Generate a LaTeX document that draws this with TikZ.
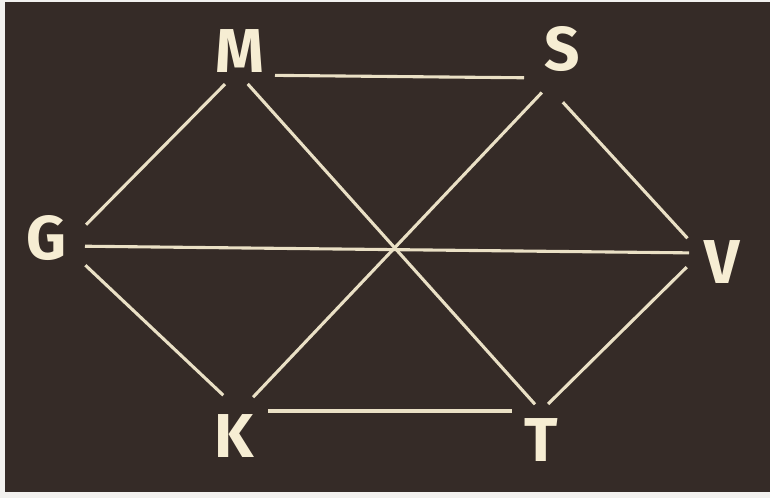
\documentclass[tikz,border=0pt]{standalone}
\usepackage{xcolor}
\usepackage{fontspec}
\setmainfont{Fira Sans}
\usepackage{tikz}
\definecolor{boardbrown}{HTML}{352B27}
\definecolor{chalkline}{HTML}{EAE0C5}
\definecolor{chalkletter}{HTML}{F6EDD3}
\definecolor{photoedge}{HTML}{F2F1EF}

\begin{document}
\begin{tikzpicture}[x=1pt,y=-1pt,
    letter/.style={inner sep=0pt,text=chalkletter,font=\fontsize{62}{62}\selectfont\bfseries},
    edge/.style={chalkline,line width=3.1pt}]
    \useasboundingbox (0,0) rectangle (770,498);
    \fill[photoedge] (0,0) rectangle (770,498);
    \fill[boardbrown] (5,2) rectangle (770,492);
    % corners of the hexagon
    \foreach \c/\x/\y in {m/237/72, s/548/86, g/65/246, v/701/253, k/240/411, t/541/411}
      \coordinate (\c) at (\x,\y);
    % letters
    \foreach \n/\x/\y in {M/240/51, S/562/49, G/46/238, V/722/262, K/234/436, T/541/440}
      \node[letter] (\n) at (\x,\y) {\n};
    % sides and diagonals
    \draw[edge, shorten <=38pt, shorten >=24pt] ([yshift=-3pt]m) -- ([yshift=8pt]s);
    \foreach \a/\b/\p/\q in {m/g/17/30, m/t/16/9, s/k/9/19, s/v/22/20, g/v/20/12, g/k/28/23, v/t/20/10, k/t/28/29}
      \draw[edge, shorten <=\p pt, shorten >=\q pt] (\a) -- (\b);
\end{tikzpicture}
\end{document}
